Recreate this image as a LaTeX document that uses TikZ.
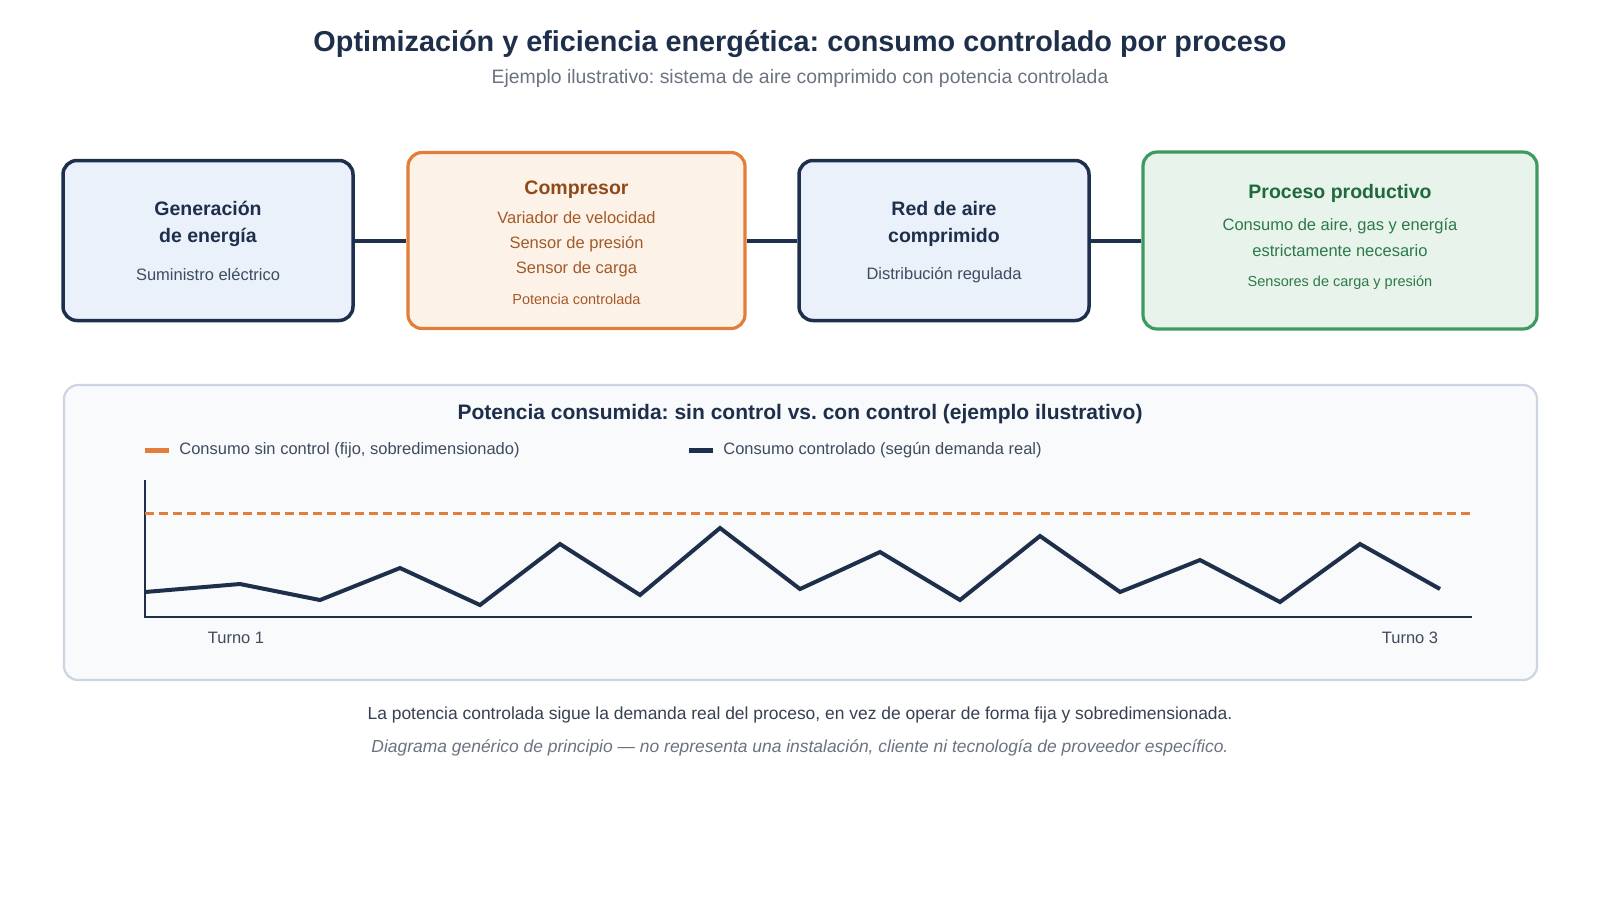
\documentclass[tikz,border=0pt]{standalone}
\usepackage{fontspec}
\setmainfont{Liberation Sans}
\frenchspacing
\definecolor{navy}{HTML}{1E2F4B}
\definecolor{bodygray}{HTML}{3F4B5E}
\definecolor{subgray}{HTML}{6B7280}
\definecolor{bluefill}{HTML}{EAF1FA}
\definecolor{orangeline}{HTML}{E27D3A}
\definecolor{orangefill}{HTML}{FDF2E8}
\definecolor{browntitle}{HTML}{8F4A1C}
\definecolor{browntext}{HTML}{A45A28}
\definecolor{greenline}{HTML}{3E9A5E}
\definecolor{greenfill}{HTML}{E7F3EB}
\definecolor{greentitle}{HTML}{1F6A3A}
\definecolor{greentext}{HTML}{2D7A48}
\definecolor{chartfill}{HTML}{F8FAFC}
\definecolor{chartline}{HTML}{CCD5E1}
\definecolor{foottext}{HTML}{374151}
\begin{document}
\begin{tikzpicture}[x=0.5pt,y=-0.5pt,
  txt/.style={inner sep=0pt, anchor=center},
  btitle/.style={txt, font=\fontsize{9.75}{11}\selectfont\bfseries},
  bbody/.style={txt, font=\fontsize{8.25}{10}\selectfont},
  bsmall/.style={txt, font=\fontsize{7.25}{9}\selectfont},
  navybox/.style={draw=navy, fill=bluefill, line width=1.75pt, rounded corners=7pt, inner sep=0pt},
  orangebox/.style={draw=orangeline, fill=orangefill, line width=1.6pt, rounded corners=7pt, inner sep=0pt},
  greenbox/.style={draw=greenline, fill=greenfill, line width=1.6pt, rounded corners=7pt, inner sep=0pt},
  link/.style={draw=navy, line width=2pt},
  legtxt/.style={txt, anchor=west, font=\fontsize{8.25}{10}\selectfont, text=bodygray},
]
\useasboundingbox (0,0) rectangle (1600,896);
\fill[white] (0,0) rectangle (1600,896);

% Title
\node[txt, font=\fontsize{14.4}{17}\selectfont\bfseries, text=navy] (title) at (800,44) {Optimización y eficiencia energética: consumo controlado por proceso};
\node[txt, font=\fontsize{9.7}{12}\selectfont, text=subgray] (subtitle) at (800,78) {Ejemplo ilustrativo: sistema de aire comprimido con potencia controlada};

% Boxes
\node[navybox, minimum width=145pt, minimum height=80pt] (gen) at (208,240.5) {};
\node[orangebox, minimum width=168.5pt, minimum height=88pt] (comp) at (576.5,240.5) {};
\node[navybox, minimum width=145pt, minimum height=80pt] (red) at (944,240.5) {};
\node[greenbox, minimum width=197pt, minimum height=88.5pt] (proc) at (1340,240.5) {};

\draw[link] (gen.east) -- (comp.west);
\draw[link] (comp.east) -- (red.west);
\draw[link] (red.east) -- (proc.west);

% Box 1 text
\node[btitle, text=navy] (gen1) at (208,208) {Generación};
\node[btitle, text=navy] (gen2) at (208,237) {de energía};
\node[bbody, text=bodygray] (gen3) at (208,274) {Suministro eléctrico};

% Box 2 text
\node[btitle, text=browntitle] (comp1) at (576.5,190) {Compresor};
\node[bbody, text=browntext] (comp2) at (576.5,218) {Variador de velocidad};
\node[bbody, text=browntext] (comp3) at (576.5,244) {Sensor de presión};
\node[bbody, text=browntext] (comp4) at (576.5,269) {Sensor de carga};
\node[bsmall, text=browntext] (comp5) at (576.5,299) {Potencia controlada};

% Box 3 text
\node[btitle, text=navy] (red1) at (944,209) {Red de aire};
\node[btitle, text=navy] (red2) at (944,237) {comprimido};
\node[bbody, text=bodygray] (red3) at (944,275) {Distribución regulada};

% Box 4 text
\node[btitle, text=greentitle] (proc1) at (1340,193) {Proceso productivo};
\node[bbody, text=greentext] (proc2) at (1340,226) {Consumo de aire, gas y energía};
\node[bbody, text=greentext] (proc3) at (1340,251) {estrictamente necesario};
\node[bsmall, text=greentext] (proc4) at (1340,283) {Sensores de carga y presión};

% Chart panel
\node[draw=chartline, fill=chartfill, line width=1.1pt, rounded corners=7pt, minimum width=736.5pt, minimum height=147.5pt, inner sep=0pt] (panel) at (800.5,532.5) {};
\node[txt, font=\fontsize{10.5}{12}\selectfont\bfseries, text=navy] (ctitle) at (800,414) {Potencia consumida: sin control vs. con control (ejemplo ilustrativo)};

% Legend
\coordinate (l1a) at (145,450);
\coordinate (l1b) at (169,450);
\draw[draw=orangeline, line width=2.5pt] (l1a) -- (l1b);
\node[legtxt] (leg1) at (179,450.5) {Consumo sin control (fijo, sobredimensionado)};
\coordinate (l2a) at (689,450);
\coordinate (l2b) at (713,450);
\draw[draw=navy, line width=2.5pt] (l2a) -- (l2b);
\node[legtxt] (leg2) at (723,450.5) {Consumo controlado (según demanda real)};

% Axes
\coordinate (ytop) at (145,480);
\coordinate (orig) at (145,617);
\coordinate (xend) at (1472,617);
\draw[navy, line width=1.1pt] (ytop) -- (orig) -- (xend);

% Uncontrolled dashed line
\coordinate (d1) at (145,513);
\coordinate (d2) at (1472,513);
\draw[orangeline, line width=1.5pt, dash pattern=on 4.5pt off 2.5pt] (d1) -- (d2);

% Controlled line
\draw[navy, line width=2pt, line join=miter]
  (145,592) -- (240,584) -- (320,600) -- (400,568) -- (480,605) -- (560,544)
  -- (640,595) -- (720,528) -- (800,589) -- (880,552) -- (960,600) -- (1040,536)
  -- (1120,592) -- (1200,560) -- (1280,602) -- (1360,544) -- (1440,589);

\node[txt, font=\fontsize{8.25}{10}\selectfont, text=bodygray] (t1) at (236,638) {Turno 1};
\node[txt, font=\fontsize{8.25}{10}\selectfont, text=bodygray] (t3) at (1410,638) {Turno 3};

% Footer
\node[txt, font=\fontsize{8.72}{10}\selectfont, text=foottext] (foot1) at (800,715) {La potencia controlada sigue la demanda real del proceso, en vez de operar de forma fija y sobredimensionada.};
\node[txt, font=\fontsize{8.72}{10}\selectfont\itshape, text=subgray] (foot2) at (800,748) {Diagrama genérico de principio — no representa una instalación, cliente ni tecnología de proveedor específico.};
\end{tikzpicture}
\end{document}
